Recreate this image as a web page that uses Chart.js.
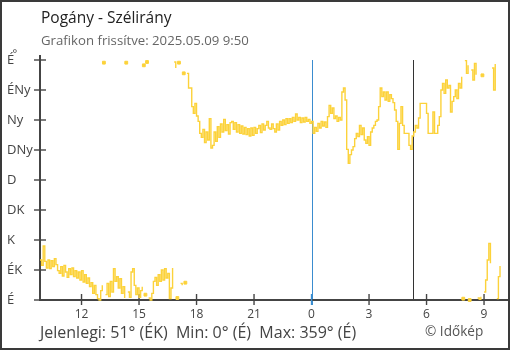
<!DOCTYPE html>
<html>
<head>
<meta charset="utf-8">
<script src="https://cdn.jsdelivr.net/npm/chart.js@4/dist/chart.umd.min.js"></script>
<style>
  html, body { margin: 0; padding: 0; background: #fff; }
  #wrap { width: 510px; height: 350px; position: relative; }
</style>
</head>
<body>
<div id="wrap"><canvas id="c" width="510" height="350"></canvas></div>
<script>
// Texts
const chartTitle = 'Pogány - Szélirány';
const updatedText = 'Grafikon frissítve: 2025.05.09 9:50';
const summaryText = 'Jelenlegi: 51° (ÉK)  Min: 0° (É)  Max: 359° (É)';
const creditText = '© Időkép';

// Compass labels for every 45°, from 0° up to 360°
const directionLabels = ['É', 'ÉK', 'K', 'DK', 'D', 'DNy', 'Ny', 'ÉNy', 'É'];
// Hour ticks (hours counted from the start of 05.08; 24 = midnight)
const hourTicks = [12, 15, 18, 21, 24, 27, 30, 33];

// Sampling: first reading 05.08 9:50, one reading every 5 minutes
const startHour = 9 + 50 / 60;
const stepMinutes = 5;
const sunriseHour = 24 + 5 + 17 / 60;

// Wind direction in degrees (0 = É, 90 = K, 180 = D, 270 = Ny), one row per hour
const direction = [
  60, 52, 81, 58, 48, 60, 47, 59, 50, 62, 53, 44,
  40, 50, 36, 52, 42, 34, 47, 38, 48, 35, 44, 33,
  42, 30, 44, 27, 38, 25, 33, 20, 26, 10, 22, 8,
  2, 0, 14, 22, 356, 8, 25, 5, 28, 12, 47, 28,
  35, 18, 32, 10, 20, 3, 356, 12, 4, 42, 47, 22,
  8, 18, 4, 14, 20, 352, 8, 357, 3, 0, 10, 28,
  34, 22, 38, 28, 45, 30, 47, 33, 40, 2, 18, 48,
  357, 348, 3, 356, 25, 22, 340, 26, 340, 318, 318, 290,
  280, 295, 276, 268, 250, 244, 256, 236, 252, 240, 272, 228,
  232, 252, 238, 260, 244, 264, 252, 271, 254, 263, 249, 266,
  268, 256, 266, 252, 263, 250, 261, 249, 259, 248, 257, 246,
  258, 247, 259, 250, 257, 262, 251, 264, 255, 262, 268, 258,
  256, 264, 257, 252, 264, 255, 268, 262, 270, 263, 272, 265,
  272, 266, 274, 268, 279, 270, 274, 266, 273, 267, 274, 268,
  271, 265, 268, 250, 259, 253, 265, 258, 268, 261, 267, 259,
  275, 292, 280, 288, 272, 276, 268, 274, 270, 312, 318, 300,
  226, 205, 218, 225, 230, 242, 250, 245, 262, 248, 258, 240,
  235, 245, 232, 252, 258, 262, 268, 270, 290, 318, 305, 312,
  300, 312, 298, 308, 302, 296, 285, 268, 226, 265, 290, 262,
  250, 250, 250, 232, 226, 246, 252, 262, 258, 273, 295, 295,
  295, 295, 280, 250, 250, 250, 282, 250, 250, 262, 275, 315,
  325, 310, 330, 318, 322, 282, 298, 305, 315, 302, 325, 318,
  335, 2, 359, 340, 352, 0, 345, 330, 355, 338, 3, 1,
  5, 337, 12, 30, 60, 85, 55, 348, 315, 354, 2, 35, 51
];

const FONT = '"Open Sans", sans-serif';
const LINE_COLOR = '#fcd23a';
const AXIS_COLOR = '#444';

const points = direction.map((v, i) => ({ x: startHour + i * stepMinutes / 60, y: v }));

// A jump across north (e.g. 355° -> 5°) is not drawn as a line
function wraps(a, b) {
  return a == null || b == null || Math.abs(a - b) > 180;
}

const framePlugin = {
  id: 'frame',
  beforeDraw(chart) {
    const c = chart.ctx;
    c.save();
    c.fillStyle = '#fff';
    c.fillRect(0, 0, chart.width, chart.height);
    c.restore();
  },
  beforeDatasetsDraw(chart) {
    const c = chart.ctx;
    const xs = chart.scales.x, ys = chart.scales.y;
    const area = chart.chartArea;
    const y0 = ys.getPixelForValue(0);
    const yTop = ys.getPixelForValue(360);
    c.save();
    // day boundary and sunrise markers
    const xm = Math.round(xs.getPixelForValue(24)) + 0.5;
    c.strokeStyle = '#3a8ccf';
    c.lineWidth = 1;
    c.beginPath(); c.moveTo(xm, yTop); c.lineTo(xm, y0 + 5); c.stroke();
    const xsr = Math.round(xs.getPixelForValue(sunriseHour)) + 0.5;
    c.strokeStyle = '#333';
    c.beginPath(); c.moveTo(xsr, yTop); c.lineTo(xsr, y0); c.stroke();

    // axes
    c.strokeStyle = AXIS_COLOR;
    c.lineWidth = 2;
    c.beginPath();
    c.moveTo(area.left, area.top);
    c.lineTo(area.left, y0);
    c.lineTo(area.right, y0);
    c.stroke();
    // tick marks crossing the axes
    c.lineWidth = 1.4;
    ys.ticks.forEach(t => {
      const y = ys.getPixelForValue(t.value);
      c.beginPath(); c.moveTo(area.left - 6, y); c.lineTo(area.left + 6, y); c.stroke();
    });
    xs.ticks.forEach(t => {
      const x = xs.getPixelForValue(t.value);
      c.strokeStyle = t.value === 24 ? '#3a8ccf' : AXIS_COLOR;
      c.beginPath(); c.moveTo(x, y0 - 6); c.lineTo(x, y0 + 5); c.stroke();
    });
    c.restore();
  },
  afterDraw(chart) {
    const c = chart.ctx;
    const xs = chart.scales.x;
    c.save();
    // hour labels under the x axis
    c.fillStyle = '#444';
    c.font = '12px ' + FONT;
    c.textAlign = 'center';
    c.textBaseline = 'middle';
    xs.ticks.forEach(t => {
      c.fillText(String(t.value % 24), xs.getPixelForValue(t.value), 315);
    });

    c.textBaseline = 'alphabetic';
    c.textAlign = 'left';
    c.fillStyle = '#222';
    c.font = '15.5px ' + FONT;
    c.fillText(chartTitle, 41, 23);
    c.fillStyle = '#666';
    c.font = '13.2px ' + FONT;
    c.fillText(updatedText, 41, 45);
    // unit sign next to the top label
    c.fillStyle = '#444';
    c.font = '11px ' + FONT;
    c.fillText('°', 12.5, 57);
    // summary line
    c.fillStyle = '#444';
    c.font = '16px ' + FONT;
    c.fillText(summaryText, 40, 337.5);
    c.fillStyle = '#555';
    c.font = '13.6px ' + FONT;
    c.fillText(creditText, 425, 335.5);
    // outer frame
    c.strokeStyle = '#3a3a3a';
    c.lineWidth = 2;
    c.strokeRect(1, 1, chart.width - 2, chart.height - 2);
    c.restore();
  }
};

new Chart(document.getElementById('c'), {
  type: 'line',
  data: {
    datasets: [{
      data: points,
      borderColor: LINE_COLOR,
      backgroundColor: LINE_COLOR,
      borderWidth: 1.4,
      stepped: true,
      tension: 0,
      fill: false,
      clip: 6,
      pointStyle: 'rect',
      pointBorderWidth: 1,
      pointBorderColor: LINE_COLOR,
      pointBackgroundColor: LINE_COLOR,
      pointRadius: ctx => {
        const i = ctx.dataIndex;
        const v = direction[i];
        const prev = i > 0 ? direction[i - 1] : null;
        const next = i < direction.length - 1 ? direction[i + 1] : null;
        return wraps(prev, v) && wraps(v, next) ? 2 : 0;
      },
      pointHoverRadius: 0,
      segment: {
        borderColor: ctx => wraps(ctx.p0.parsed.y, ctx.p1.parsed.y) ? 'rgba(0,0,0,0)' : undefined
      }
    }]
  },
  options: {
    responsive: false,
    animation: false,
    devicePixelRatio: 1,
    layout: { padding: { left: 7, right: 2, top: 55, bottom: 0 } },
    plugins: {
      legend: { display: false },
      title: { display: false },
      tooltip: { enabled: false }
    },
    events: [],
    scales: {
      x: {
        type: 'linear',
        min: startHour,
        max: 34.25,
        grid: { display: false },
        border: { display: false },
        afterBuildTicks: s => { s.ticks = hourTicks.map(v => ({ value: v })); },
        afterFit: s => { s.height = 50; },
        ticks: { display: false, autoSkip: false }
      },
      y: {
        min: 0,
        max: 367.5,
        grid: { display: false },
        border: { display: false },
        afterBuildTicks: s => { s.ticks = directionLabels.map((_, i) => ({ value: i * 45 })); },
        afterFit: s => { s.width = 33; },
        ticks: {
          crossAlign: 'far',
          color: '#444',
          font: { family: FONT, size: 13 },
          callback: v => directionLabels[Math.round(v / 45)]
        }
      }
    }
  },
  plugins: [framePlugin]
});
</script>
</body>
</html>
